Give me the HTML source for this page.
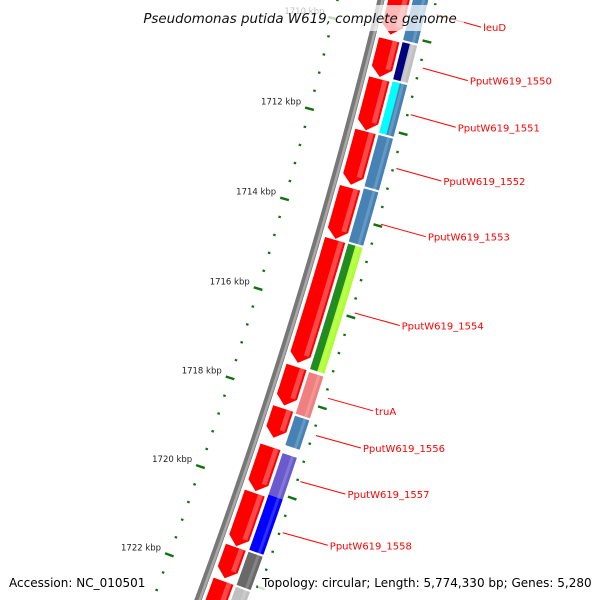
<!DOCTYPE html>
<html><head><meta charset="utf-8"><style>
html,body{margin:0;background:#fff;overflow:hidden;width:600px;height:600px;}
svg{display:block;}
text{font-family:"DejaVu Sans","Liberation Sans",sans-serif;}
</style></head><body>
<svg id="map" width="600" height="600" viewBox="0 0 600 600" xmlns="http://www.w3.org/2000/svg" style="position:absolute;left:0;top:0">
<g id="layer"></g>
</svg>
<script>
// ---- data (bp) ----
const fwdStarts = [1708765,1710158,1711012,1712158,1713393,1714539,1717348,1718269,1719123,1720157,1721370,1722134];
const fwdEnds   = [1710045,1710967,1712135,1713326,1714517,1717258,1718202,1718921,1720112,1721348,1722067,1723595];
const cogStarts = [1708630,1710135,1710989,1712157,1713326,1714539,1717371,1718337,1719168,1720090,1721370,1722157];
const cogEnds   = [1710090,1710944,1712112,1713281,1714494,1717303,1718292,1718989,1720090,1721325,1722112,1723460];
const cogInner  = ['#4682b4','#000080','#00ffff','#4682b4','#4682b4','#228b22','#f08080','#4682b4','#6a5acd','#0000ff','#696969','#c0c0c0'];
const cogOuter  = ['#4682b4','#c0c0c0','#4682b4','#4682b4','#4682b4','#adff2f','#f08080','#4682b4','#6a5acd','#0000ff','#696969','#c0c0c0'];
const labelNames = ['leuD','PputW619_1550','PputW619_1551','PputW619_1552','PputW619_1553','PputW619_1554','truA','PputW619_1556','PputW619_1557','PputW619_1558'];
const labelGene  = [0,1,2,3,4,5,6,7,8,9];
const tickStart = 1708000, tickEnd = 1724000, tickStep = 400, tickMajor = 2000;

// ---- geometry ----
const CX=-4866.9, CY=-1272.6, R=5400;
const PHI0=0.2957, BP0=1716000, RAD_PER_BP=8.73e-6;
function ang(bp){return PHI0+(bp-BP0)*RAD_PER_BP;}
function pt(bp,off){const a=ang(bp),r=R+off;return [CX+r*Math.cos(a),CY+r*Math.sin(a)];}
const NS='http://www.w3.org/2000/svg';
const layer=document.getElementById('layer');
function mk(tag,attrs,parent){const e=document.createElementNS(NS,tag);for(const k in attrs)e.setAttribute(k,attrs[k]);(parent||layer).appendChild(e);return e;}
function arcBand(b1,b2,o1,o2){
  const n=12,p=[];
  for(let i=0;i<=n;i++)p.push(pt(b1+(b2-b1)*i/n,o2));
  for(let i=n;i>=0;i--)p.push(pt(b1+(b2-b1)*i/n,o1));
  return p.map(q=>q[0].toFixed(2)+','+q[1].toFixed(2)).join(' ');
}
function arcPath(b1,b2,off){
  const n=40;let d='';
  for(let i=0;i<=n;i++){const q=pt(b1+(b2-b1)*i/n,off);d+=(i?'L':'M')+q[0].toFixed(2)+' '+q[1].toFixed(2);}
  return d;
}

// backbone
let e=mk('path',{d:arcPath(1707000,1725000,0),stroke:'#777',"stroke-width":7,fill:'none'});


e=mk('path',{d:arcPath(1707000,1725000,1.5),stroke:'#a8a8a8',"stroke-width":2.5,fill:'none'});



// ticks
for(let bp=tickStart;bp<=tickEnd;bp+=tickStep){
  const major=(bp%tickMajor===0);
  const a=pt(bp,major?-47:-43.5), b=pt(bp,major?-38:-41);
  e=mk('line',{x1:a[0],y1:a[1],x2:b[0],y2:b[1],stroke:'#107010',"stroke-width":major?2.4:2.2});
  
  
  const c=pt(bp,major?50:52.5), d=pt(bp,major?59:55);
  e=mk('line',{x1:c[0],y1:c[1],x2:d[0],y2:d[1],stroke:'#107010',"stroke-width":major?2.4:2.2});
  
  
  if(major){
    const t=mk('text',{x:a[0]-4,y:a[1]-3,"font-size":8.5,fill:'#222',"text-anchor":'end'});
    t.textContent=(bp/1000)+' kbp';
    
    
  }
}

// forward CDS arrows
const HEAD=190;
for(let i=0;i<fwdStarts.length;i++){
  const s=fwdStarts[i],en=fwdEnds[i],h=en-HEAD;
  const n=10,p=[];
  for(let k=0;k<=n;k++)p.push(pt(s+(h-s)*k/n,28));
  p.push(pt(en,17.5));
  for(let k=n;k>=0;k--)p.push(pt(s+(h-s)*k/n,7));
  e=mk('polygon',{points:p.map(q=>q[0].toFixed(2)+','+q[1].toFixed(2)).join(' '),fill:'#ff0000'});
  
  
  e=mk('polygon',{points:arcBand(s,h,21,26),fill:'#ff5a5a',opacity:0.8});
  
  
}

// COG ring
for(let i=0;i<cogStarts.length;i++){
  const s=cogStarts[i],en=cogEnds[i];
  e=mk('polygon',{points:arcBand(s,en,31,39),fill:cogInner[i]});
  
  
  e=mk('polygon',{points:arcBand(s,en,38.5,46),fill:cogOuter[i]});
  
  
  e=mk('polygon',{points:arcBand(s,en,40,43),fill:'#ffffff',opacity:0.18});
  
  
}

// gene labels
for(let i=0;i<labelNames.length;i++){
  const g=labelGene[i],mid=(fwdStarts[g]+fwdEnds[g])/2;
  const a=pt(mid,57);
  const bx=a[0]+45,by=a[1]+12.5;
  e=mk('line',{x1:a[0],y1:a[1],x2:bx,y2:by,stroke:'#ff0000',"stroke-width":1});
  
  
  const t=mk('text',{x:bx+2,y:by+4,"font-size":10,fill:'#ff0000'});
  t.textContent=labelNames[i];
  
  
}
</script>
<svg style="position:absolute;left:0;top:0" width="600" height="600">
<rect x="138" y="5" width="326" height="26" fill="#fff" opacity="0.72"/>
<text x="300" y="23" text-anchor="middle" font-size="13.4" font-style="italic" fill="#111" style="font-family:'DejaVu Sans',sans-serif">Pseudomonas putida W619, complete genome</text>
<rect x="5" y="572" width="145" height="20" fill="#fff" opacity="0.8"/>
<text x="9" y="587" font-size="12" fill="#000" style="font-family:'DejaVu Sans',sans-serif">Accession: NC_010501</text>
<rect x="258" y="572" width="338" height="20" fill="#fff" opacity="0.8"/>
<text x="262" y="587" font-size="12" fill="#000" style="font-family:'DejaVu Sans',sans-serif">Topology: circular; Length: 5,774,330 bp; Genes: 5,280</text>
</svg>
</body></html>
